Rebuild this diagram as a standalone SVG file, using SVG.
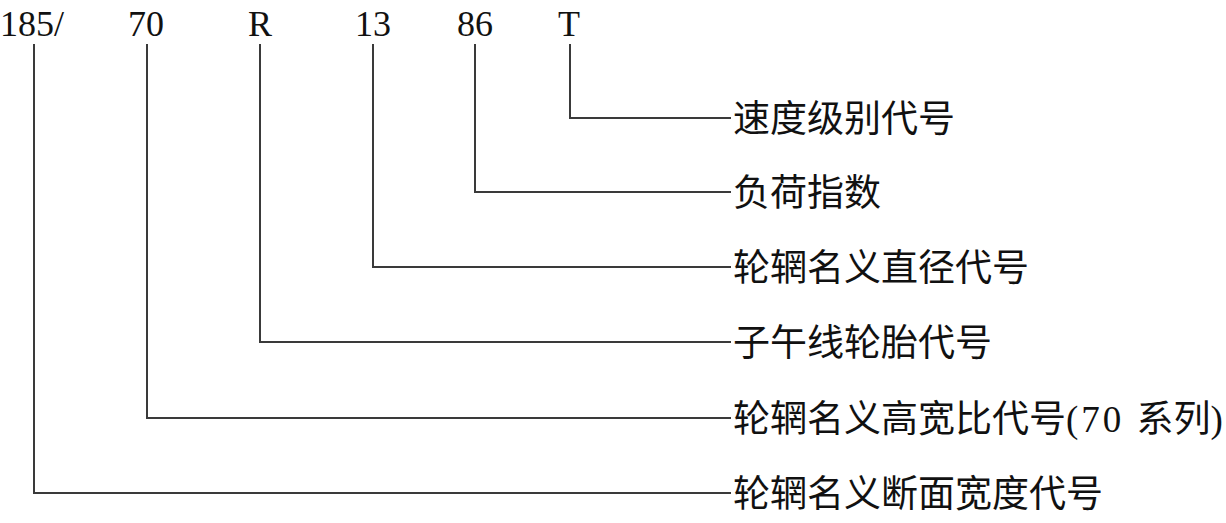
<svg xmlns="http://www.w3.org/2000/svg" width="1226" height="523" viewBox="0 0 1226 523">
<style>
.t{font-family:"Liberation Serif","Noto Sans CJK SC",serif;font-size:36px;fill:#111}
.l{font-family:"Liberation Serif","Noto Sans CJK SC",serif;font-size:37px;fill:#111}
.c{fill:none;stroke:#3a3a3a;stroke-width:2}
</style>
<rect width="1226" height="523" fill="#fff"/>
<g id="codes">
<text class="t" x="0" y="36">185/</text>
<text class="t" x="128" y="36">70</text>
<text class="t" x="248" y="36">R</text>
<text class="t" x="355" y="36">13</text>
<text class="t" x="457" y="36">86</text>
<text class="t" x="558" y="36">T</text>
</g>
<g id="connectors">
<polyline class="c" points="570,44 570,118 731,118"/>
<polyline class="c" points="475,44 475,192 731,192"/>
<polyline class="c" points="373,44 373,267 731,267"/>
<polyline class="c" points="260,44 260,342 731,342"/>
<polyline class="c" points="147,44 147,418 731,418"/>
<polyline class="c" points="34,44 34,493 731,493"/>
</g>
<g id="label-speed"><text class="l" x="733" y="132">速度级别代号</text></g>
<g id="label-load"><text class="l" x="733" y="206">负荷指数</text></g>
<g id="label-diameter"><text class="l" x="733" y="281">轮辋名义直径代号</text></g>
<g id="label-radial"><text class="l" x="733" y="356">子午线轮胎代号</text></g>
<g id="label-ratio"><text class="l" x="733" y="432">轮辋名义高宽比代号<tspan letter-spacing="3">(70 </tspan>系列)</text></g>
<g id="label-width"><text class="l" x="733" y="507">轮辋名义断面宽度代号</text></g>
</svg>
